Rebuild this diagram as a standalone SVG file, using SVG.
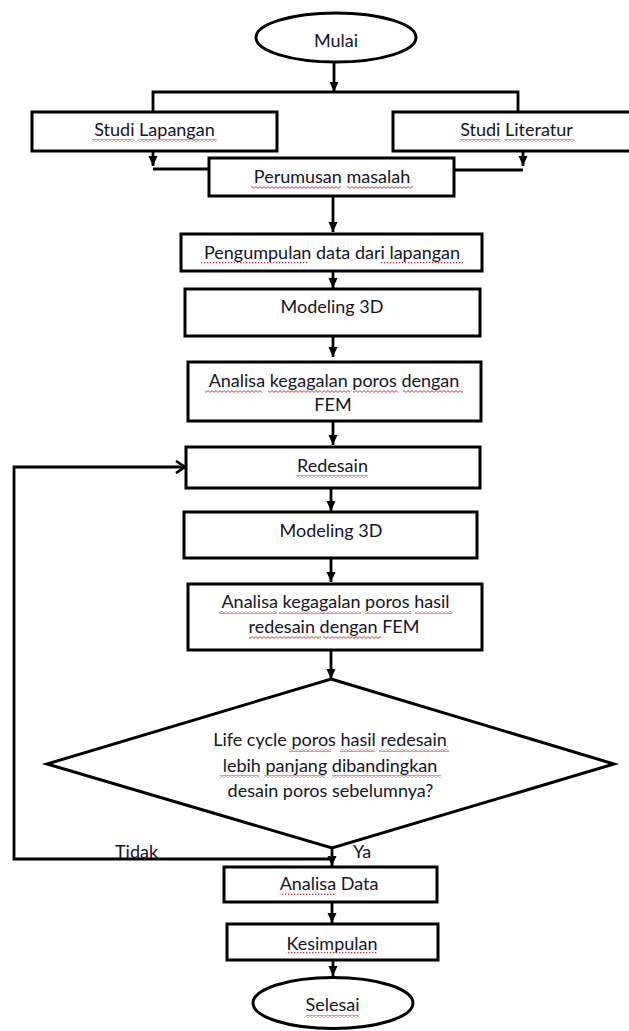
<svg xmlns="http://www.w3.org/2000/svg" width="629" height="1031" viewBox="0 0 629 1031">
<style>
.box{fill:#fff;stroke:#000;stroke-width:3}
.ln{fill:none;stroke:#000;stroke-width:2.8}
.t{font-family:Lato,"Liberation Sans",sans-serif;font-size:18px;fill:#141428;text-anchor:middle}
.lbl{font-family:Lato,"Liberation Sans",sans-serif;font-size:18px;fill:#141428}
.wv{fill:url(#wavy)}
.dt{fill:url(#dots)}
</style>
<defs>
<marker id="ah" markerUnits="userSpaceOnUse" markerWidth="11" markerHeight="10" refX="10" refY="4.5" orient="auto">
<path d="M0,0 L10,4.5 L0,9 z" fill="#000"/>
</marker>
<marker id="open" markerUnits="userSpaceOnUse" markerWidth="14" markerHeight="14" refX="10" refY="7" orient="auto">
<path d="M1,1 L10,7 L1,13" fill="none" stroke="#000" stroke-width="2.6"/>
</marker>
<pattern id="wavy" patternUnits="userSpaceOnUse" width="4" height="3">
<path d="M0,0.6 L2,2.4 L4,0.6" fill="none" stroke="#e02020" stroke-width="0.9"/>
</pattern>
<pattern id="dots" patternUnits="userSpaceOnUse" width="3" height="2">
<rect x="0" y="0" width="1.3" height="1.3" fill="#d03030"/>
</pattern>
</defs>

<g id="connectors">
<line class="ln" x1="334" y1="62" x2="334" y2="92" marker-end="url(#ah)"/>
<polyline class="ln" points="153,112 153,92 518,92 518,112"/>
<line class="ln" x1="153" y1="151" x2="153" y2="166" marker-end="url(#ah)"/>
<line class="ln" x1="153" y1="169" x2="209" y2="169"/>
<line class="ln" x1="523" y1="151" x2="523" y2="166" marker-end="url(#ah)"/>
<line class="ln" x1="454" y1="170" x2="523" y2="170"/>
<line class="ln" x1="333" y1="196" x2="333" y2="232" marker-end="url(#ah)"/>
<line class="ln" x1="333" y1="271" x2="333" y2="288" marker-end="url(#ah)"/>
<line class="ln" x1="333" y1="336" x2="333" y2="357" marker-end="url(#ah)"/>
<line class="ln" x1="333" y1="421" x2="333" y2="445" marker-end="url(#ah)"/>
<line class="ln" x1="331" y1="488" x2="331" y2="511" marker-end="url(#ah)"/>
<line class="ln" x1="331" y1="558" x2="331" y2="582" marker-end="url(#ah)"/>
<line class="ln" x1="331" y1="650" x2="331" y2="679" marker-end="url(#ah)"/>
<line class="ln" x1="332" y1="848" x2="332" y2="866" marker-end="url(#ah)"/>
<polyline class="ln" points="332,859 14,859 14,467 185,467" marker-end="url(#open)"/>
<line class="ln" x1="332" y1="902" x2="332" y2="923" marker-end="url(#ah)"/>
<line class="ln" x1="333" y1="960" x2="333" y2="976" marker-end="url(#ah)"/>
<text class="lbl" x="115" y="858">Tidak</text>
<text class="lbl" x="353" y="858">Ya</text>
</g>

<g id="mulai">
<ellipse class="box" cx="336" cy="37.5" rx="80" ry="24.5"/>
<text class="t" x="336" y="47">Mulai</text>
</g>

<g id="studi-lapangan">
<rect class="box" x="32" y="112" width="245" height="39"/>
<text class="t" x="154.5" y="136">Studi Lapangan</text>
<rect class="wv" x="92" y="139" width="42" height="3"/>
<rect class="wv" x="138" y="139" width="79" height="3"/>
</g>

<g id="studi-literatur">
<rect class="box" x="393" y="112" width="240" height="39"/>
<text class="t" x="516.5" y="136">Studi Literatur</text>
<rect class="wv" x="459" y="139" width="42" height="3"/>
<rect class="wv" x="505" y="139" width="69" height="3"/>
</g>

<g id="perumusan">
<rect class="box" x="209" y="158" width="245" height="38"/>
<text class="t" x="332" y="183">Perumusan masalah</text>
<rect class="wv" x="251" y="186" width="90" height="3"/>
<rect class="wv" x="347" y="186" width="66" height="3"/>
</g>

<g id="pengumpulan">
<rect class="box" x="181" y="234" width="301" height="37"/>
<text class="t" x="332" y="259">Pengumpulan data dari lapangan</text>
<rect class="dt" x="200" y="262" width="108" height="2"/>
<rect class="dt" x="380" y="262" width="83" height="2"/>
</g>

<g id="modeling1">
<rect class="box" x="185" y="289" width="295" height="47"/>
<text class="t" x="332" y="313">Modeling 3D</text>
</g>

<g id="analisa1">
<rect class="box" x="188" y="362" width="293" height="59"/>
<text class="t" x="334" y="387">Analisa kegagalan poros dengan</text>
<text class="t" x="333" y="411">FEM</text>
<rect class="wv" x="205" y="390" width="57" height="3"/>
<rect class="wv" x="268" y="390" width="82" height="3"/>
<rect class="wv" x="353" y="390" width="45" height="3"/>
<rect class="wv" x="403" y="390" width="60" height="3"/>
</g>

<g id="redesain">
<rect class="box" x="186" y="447" width="294" height="41"/>
<text class="t" x="332.5" y="472">Redesain</text>
<rect class="wv" x="297" y="475" width="71" height="3"/>
</g>

<g id="modeling2">
<rect class="box" x="184" y="512" width="293" height="46"/>
<text class="t" x="331" y="537">Modeling 3D</text>
</g>

<g id="analisa2">
<rect class="box" x="188" y="584" width="294" height="66"/>
<text class="t" x="335.5" y="608">Analisa kegagalan poros hasil</text>
<text class="t" x="334" y="633">redesain dengan FEM</text>
<rect class="wv" x="219" y="611" width="58" height="3"/>
<rect class="wv" x="279" y="611" width="82" height="3"/>
<rect class="wv" x="365" y="611" width="46" height="3"/>
<rect class="wv" x="415" y="611" width="37" height="3"/>
<rect class="wv" x="249" y="636" width="72" height="3"/>
<rect class="wv" x="323" y="636" width="58" height="3"/>
</g>

<g id="keputusan">
<polygon class="box" points="331,679 614,764 332,848 47,764"/>
<text class="t" x="330" y="746">Life cycle poros hasil redesain</text>
<text class="t" x="330" y="772">lebih panjang dibandingkan</text>
<text class="t" x="330.5" y="797">desain poros sebelumnya?</text>
<rect class="wv" x="289" y="749" width="42" height="3"/>
<rect class="wv" x="340" y="749" width="35" height="3"/>
<rect class="wv" x="379" y="749" width="70" height="3"/>
<rect class="wv" x="220" y="775" width="39" height="3"/>
<rect class="wv" x="264" y="775" width="61" height="3"/>
<rect class="wv" x="332" y="775" width="109" height="3"/>
</g>

<g id="analisa-data">
<rect class="box" x="224" y="867" width="213" height="35"/>
<text class="t" x="329" y="890">Analisa Data</text>
<rect class="dt" x="280" y="893" width="56" height="2"/>
</g>

<g id="kesimpulan">
<rect class="box" x="227" y="924" width="211" height="36"/>
<text class="t" x="332" y="950">Kesimpulan</text>
<rect class="dt" x="286" y="952" width="92" height="2"/>
</g>

<g id="selesai">
<ellipse class="box" cx="333" cy="1003" rx="80" ry="25.5"/>
<text class="t" x="332.5" y="1011">Selesai</text>
<rect class="wv" x="306" y="1015" width="53" height="3"/>
</g>
</svg>
